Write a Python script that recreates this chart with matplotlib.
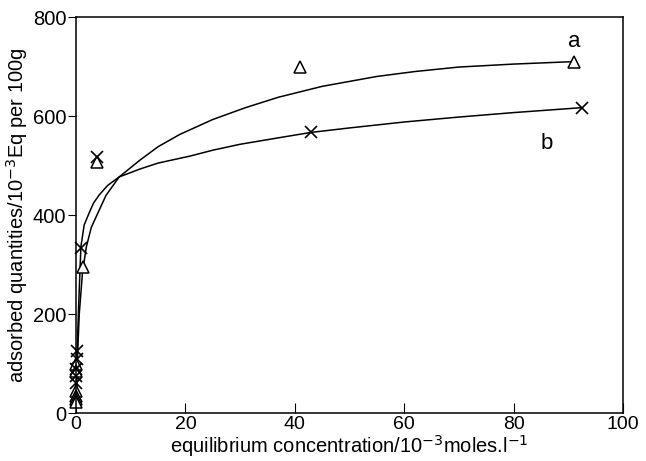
import matplotlib
matplotlib.use("Agg")
import matplotlib.pyplot as plt

plt.rcParams["font.family"] = ["Liberation Sans", "DejaVu Sans"]

# measured points, series a (triangles)
a_x = [91, 41, 3.8, 1.3, 0.05, 0.05, 0.03, 0.02, 0.02, 0.02]
a_y = [710, 700, 507, 295, 100, 85, 45, 35, 28, 22]

# measured points, series b (crosses)
b_x = [92.5, 43, 3.8, 1.0, 0.1, 0.1, 0.05, 0.05, 0.05]
b_y = [617, 568, 517, 333, 125, 110, 90, 75, 60]

# fitted curves
curve_a_x = [0, 0.3, 0.6, 1.2, 1.9, 2.8, 4.0, 5.5, 7.9, 11.7, 15, 19, 25, 31, 37,
             45, 55, 62, 70, 80, 91]
curve_a_y = [0, 120, 200, 285, 336, 375, 404, 440, 477, 511, 538, 563, 593, 617, 638,
             660, 680, 690, 699, 705, 710]
curve_b_x = [0, 0.2, 0.5, 0.9, 1.5, 2.4, 3.2, 4.2, 5.8, 7.9, 11.7, 15, 20.8, 25, 30,
             37, 43, 50, 60, 70, 80, 92.5]
curve_b_y = [0, 120, 220, 336, 380, 404, 424, 440, 460, 477, 493, 505, 519, 531, 543,
             556, 567, 576, 588, 598, 607, 617]

fig = plt.figure(figsize=(6.46, 4.61), dpi=100)
ax = fig.add_axes([0.1176, 0.104, 0.8468, 0.859])

ax.plot(curve_a_x, curve_a_y, color="black", lw=1.1)
ax.plot(curve_b_x, curve_b_y, color="black", lw=1.1)
ax.plot(a_x, a_y, linestyle="none", marker="^", markersize=9,
        markerfacecolor="white", markeredgecolor="black", markeredgewidth=1.1,
        clip_on=False)
ax.plot(b_x, b_y, linestyle="none", marker="x", markersize=8,
        color="black", markeredgewidth=1.2, clip_on=False)

ax.text(91, 750, "a", fontsize=16, ha="center", va="center")
ax.text(86, 545, "b", fontsize=16, ha="center", va="center")

ax.set_xlim(0, 100)
ax.set_ylim(0, 800)
ax.set_xticks([0, 20, 40, 60, 80, 100])
ax.set_yticks([0, 200, 400, 600, 800])
ax.tick_params(axis="x", direction="in", length=7, labelsize=14, pad=2)
ax.tick_params(axis="y", direction="out", length=6, labelsize=14.5, pad=1)
for s in ax.spines.values():
    s.set_linewidth(1.1)

ax.set_xlabel("equilibrium concentration/10$^{-3}$moles.l$^{-1}$", fontsize=14.5, labelpad=0)
ax.set_ylabel("adsorbed quantities/10$^{-3}$Eq per 100g", fontsize=14.5, labelpad=2)

fig.savefig("out.png", dpi=100)
